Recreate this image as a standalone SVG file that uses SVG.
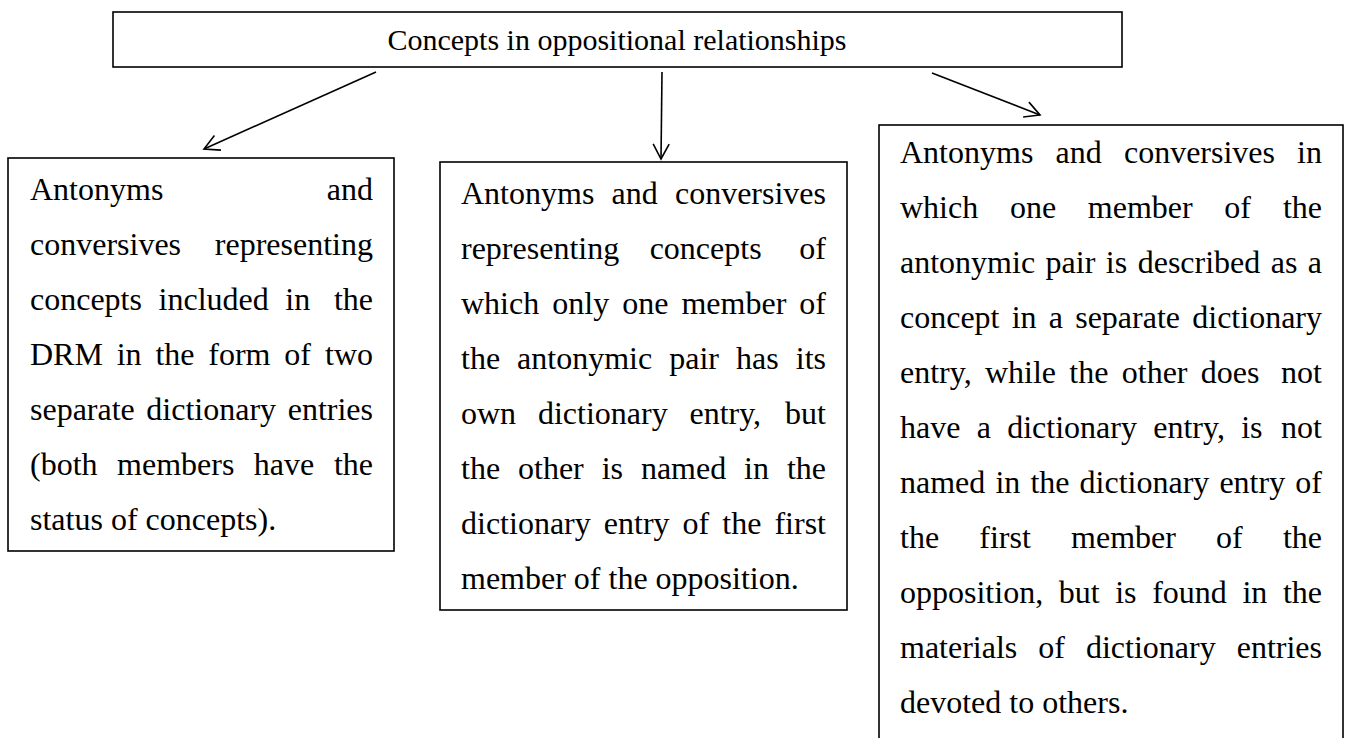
<svg xmlns="http://www.w3.org/2000/svg" width="1352" height="738" viewBox="0 0 1352 738">
<defs>
<style>
.box{fill:#fff;stroke:#000;stroke-width:1.6}
.t{font-family:"Liberation Serif","Times New Roman",serif;font-size:32px;fill:#000}
.title{font-size:30px}
.conn{stroke:#000;stroke-width:1.6;fill:none;marker-end:url(#arr)}
</style>
<marker id="arr" markerUnits="userSpaceOnUse" viewBox="-16 -10 18 20" markerWidth="18" markerHeight="20" refX="0" refY="0" orient="auto">
<path d="M-15,-8 L0,0 L-15,8" fill="none" stroke="#000" stroke-width="1.6"/>
</marker>
</defs>
<rect width="1352" height="738" fill="#fff"/>
<g id="title">
<rect class="box" x="113" y="12" width="1009" height="55"/>
<text class="t title" x="617" y="50" text-anchor="middle">Concepts in oppositional relationships</text>
</g>
<g id="connectors">
<line class="conn" x1="376" y1="72" x2="204" y2="149"/>
<line class="conn" x1="662" y1="72" x2="661" y2="159"/>
<line class="conn" x1="932" y1="73" x2="1040" y2="115"/>
</g>
<g id="left">
<rect class="box" x="8" y="158" width="386" height="393"/>
<text class="t" x="30" y="200">Antonyms<tspan x="373" text-anchor="end">and</tspan></text>
<text class="t" x="30" y="255">conversives<tspan x="373" text-anchor="end">representing</tspan></text>
<text class="t" x="30" y="310" word-spacing="8.6">concepts included in<tspan x="373" text-anchor="end">the</tspan></text>
<text class="t" x="30" y="365" word-spacing="5.8">DRM in the form of<tspan x="373" text-anchor="end">two</tspan></text>
<text class="t" x="30" y="420" word-spacing="3.5">separate dictionary<tspan x="373" text-anchor="end">entries</tspan></text>
<text class="t" x="30" y="475" word-spacing="11.5">(both members have<tspan x="373" text-anchor="end">the</tspan></text>
<text class="t" x="30" y="530">status of concepts).</text>
</g>
<g id="middle">
<rect class="box" x="440" y="162" width="407" height="448"/>
<text class="t" x="461" y="204" word-spacing="9.2">Antonyms and<tspan x="826" text-anchor="end">conversives</tspan></text>
<text class="t" x="461" y="259" word-spacing="22.5">representing concepts<tspan x="826" text-anchor="end">of</tspan></text>
<text class="t" x="461" y="314" word-spacing="5.05">which only one member<tspan x="826" text-anchor="end">of</tspan></text>
<text class="t" x="461" y="369" word-spacing="9">the antonymic pair has<tspan x="826" text-anchor="end">its</tspan></text>
<text class="t" x="461" y="424" word-spacing="13.8">own dictionary entry,<tspan x="826" text-anchor="end">but</tspan></text>
<text class="t" x="461" y="479" word-spacing="9.9">the other is named in<tspan x="826" text-anchor="end">the</tspan></text>
<text class="t" x="461" y="534" word-spacing="5.05">dictionary entry of the<tspan x="826" text-anchor="end">first</tspan></text>
<text class="t" x="461" y="589">member of the opposition.</text>
</g>
<g id="right">
<rect class="box" x="879" y="125" width="464" height="620"/>
<text class="t" x="900" y="163" word-spacing="14.2">Antonyms and conversives<tspan x="1322" text-anchor="end">in</tspan></text>
<text class="t" x="900" y="218" word-spacing="23.7">which one member of<tspan x="1322" text-anchor="end">the</tspan></text>
<text class="t" x="900" y="273" word-spacing="2.5">antonymic pair is described as<tspan x="1322" text-anchor="end">a</tspan></text>
<text class="t" x="900" y="328" word-spacing="4.2">concept in a separate<tspan x="1322" text-anchor="end">dictionary</tspan></text>
<text class="t" x="900" y="383" word-spacing="5.3">entry, while the other does<tspan x="1322" text-anchor="end">not</tspan></text>
<text class="t" x="900" y="438" word-spacing="8.3">have a dictionary entry, is<tspan x="1322" text-anchor="end">not</tspan></text>
<text class="t" x="900" y="493" word-spacing="2.1">named in the dictionary entry<tspan x="1322" text-anchor="end">of</tspan></text>
<text class="t" x="900" y="548" word-spacing="32.2">the first member of<tspan x="1322" text-anchor="end">the</tspan></text>
<text class="t" x="900" y="603" word-spacing="7.6">opposition, but is found in<tspan x="1322" text-anchor="end">the</tspan></text>
<text class="t" x="900" y="658" word-spacing="13">materials of dictionary<tspan x="1322" text-anchor="end">entries</tspan></text>
<text class="t" x="900" y="713">devoted to others.</text>
</g>
</svg>
